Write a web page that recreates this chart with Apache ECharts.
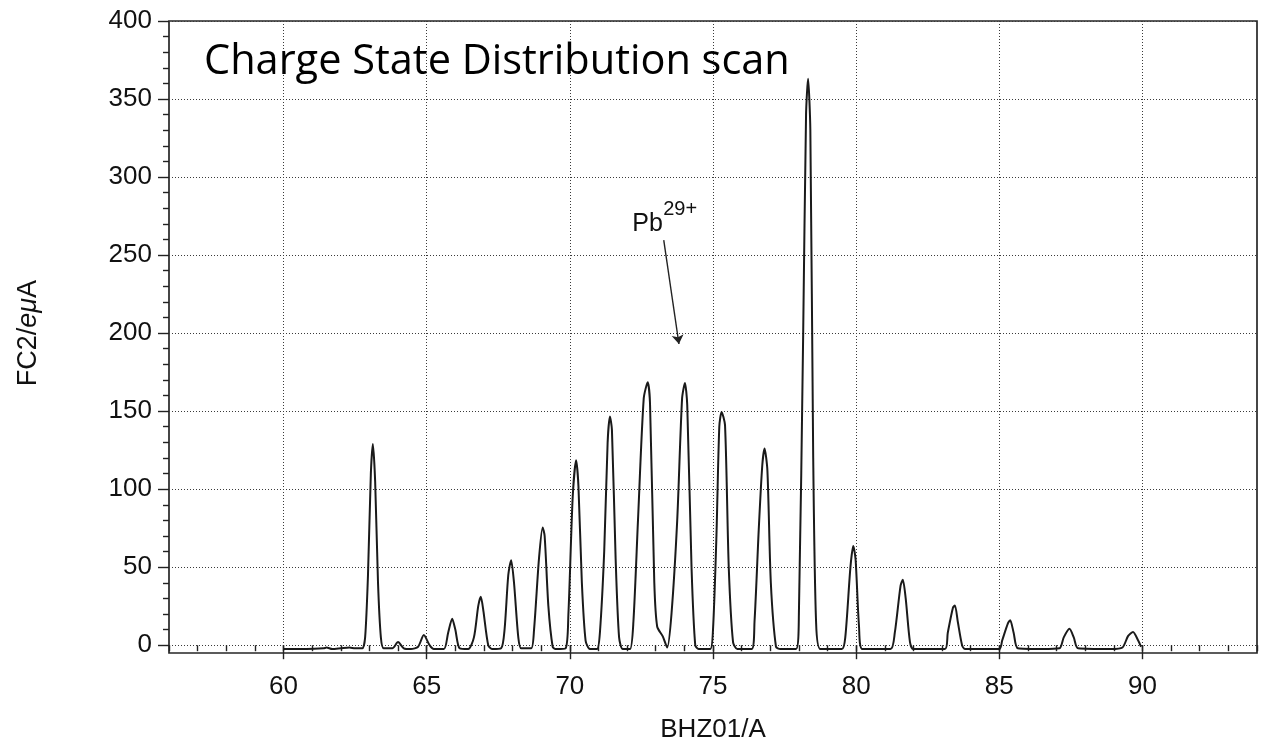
<!DOCTYPE html>
<html><head><meta charset="utf-8">
<script src="https://cdn.jsdelivr.net/npm/echarts@6/dist/echarts.min.js"></script>
<style>html,body{margin:0;padding:0;background:#fff}#c{width:1268px;height:752px}</style>
</head><body><div id="c"></div>
<script>
// ---- data ----
const titleText = 'Charge State Distribution scan';
const xAxisName = 'BHZ01/A';
const yAxisNameParts = ['FC2/', 'eμ', 'A'];
const bhz = [
 60.0,60.8,61.4,61.5,61.7,62.0,62.3,62.5,62.75,
 62.85,62.95,63.05,63.12,63.2,63.3,63.4,63.5,
 63.8,64.0,64.2,64.45,64.7,64.9,65.1,65.25,
 65.6,65.75,65.89,66.0,66.15,66.45,
 66.65,66.8,66.89,66.98,67.15,67.3,
 67.6,67.72,67.85,67.95,68.05,68.2,68.3,
 68.65,68.75,68.92,69.05,69.12,69.25,69.4,69.5,
 69.85,69.95,70.1,70.22,70.3,70.42,70.55,70.7,
 70.95,71.05,71.2,71.32,71.4,71.47,71.6,71.72,71.85,
 72.1,72.22,72.38,72.58,72.72,72.8,72.95,73.05,73.25,73.4,
 73.55,73.75,73.92,74.02,74.1,74.25,74.38,74.5,
 74.9,75.0,75.12,75.22,75.3,75.42,75.55,75.7,75.85,
 76.35,76.45,76.6,76.72,76.8,76.9,77.02,77.2,77.35,
 77.9,78.0,78.15,78.25,78.32,78.4,78.5,78.6,78.75,
 79.5,79.62,79.8,79.9,79.98,80.1,80.22,
 81.2,81.35,81.55,81.63,81.73,81.88,82.0,
 83.1,83.2,83.38,83.45,83.55,83.7,83.8,
 85.0,85.1,85.3,85.38,85.5,85.65,
 86.5,87.1,87.25,87.45,87.6,87.75,
 88.9,89.3,89.5,89.67,89.85,89.95
];
const fc2 = [
 -2.5,-2.5,-2,-1.5,-2.5,-2,-1.5,-2,-2,
 5,45,110,129,105,40,5,-2,
 -2,2,-2,-2.5,-1,6.5,0,-2.5,
 -2.5,8,17,10,-2,-2.5,
 5,25,31,22,0,-2.5,
 -2,10,45,54.5,40,5,-2,
 -2,10,55,75.5,70,25,-1,-2.5,
 -2,20,95,118.5,102,40,3,-2.5,
 -2.5,8,60,130,146.5,138,55,5,-2.5,
 -2.5,15,80,158,168.5,155,40,12,5.5,-1.5,
 20,80,158,168,154,50,0,-2.5,
 -2.5,10,70,140,149.5,141,50,2,-2.5,
 -2.5,15,75,115,126,112,40,-1,-2.5,
 -2.5,20,200,340,363,330,120,15,-2.5,
 -2.5,5,50,63.5,55,12,-2.5,
 -2.5,8,38,42,30,2,-2.5,
 -2.5,8,24,25.5,15,0,-2.5,
 -2.5,3,14,16,8,-2,
 -2.5,-2,5,10.5,5,-2,
 -2.5,-1.5,6,8.5,3,-1
];
const annotationMain = 'Pb';
const annotationSup = '29+';
const arrowFrom = [73.28, 259.6];
const arrowTo = [73.81, 193];
const annotationAt = [72.18, 270];      // left / middle of "Pb"
const annotationSupAt = [73.26, 279];   // left / middle of "29+"

// ---- layout ----
const W = 1268, H = 752;
const PL = 169, PR = 1257, PT = 21, PB = 653;
const XMIN = 56, XMAX = 94, YMIN = -5, YMAX = 400;
const ux = (PR - PL) / (XMAX - XMIN), uy = (PB - PT) / (YMAX - YMIN);
const FONT = '"Liberation Sans", Arial, sans-serif';
const dotted = { type: [1, 2], color: '#3a3a3a', width: 1 };

const chart = echarts.init(document.getElementById('c'), null, { renderer: 'canvas' });
const option = {
  animation: false,
  backgroundColor: '#fff',
  grid: [
    { left: PL, right: W - PR, top: PT, bottom: H - PB, show: true, borderColor: '#262626', borderWidth: 1.7, backgroundColor: 'transparent' },
    { left: PL + (60 - XMIN) * ux, right: (W - PR) + (XMAX - 90) * ux, top: PT, bottom: H - PB, show: false },
    { left: PL, right: W - PR, top: PT, bottom: (H - PB) + (0 - YMIN) * uy, show: false }
  ],
  xAxis: [
    { gridIndex: 0, type: 'value', min: XMIN, max: XMAX, interval: 1,
      axisLine: { show: false }, axisLabel: { show: false }, splitLine: { show: false },
      axisTick: { show: true, inside: false, length: 6, lineStyle: { color: '#222', width: 1.4 } } },
    { gridIndex: 1, type: 'value', min: 60, max: 90, interval: 5,
      axisLine: { show: false },
      axisTick: { show: true, inside: false, length: 14, lineStyle: { color: '#222', width: 1.4 } },
      axisLabel: { show: true, fontSize: 26, fontFamily: FONT, color: '#111', margin: 21 },
      splitLine: { show: true, lineStyle: dotted },
      name: xAxisName, nameLocation: 'middle', nameGap: 64,
      nameTextStyle: { fontSize: 26, fontFamily: FONT, color: '#111' } },
    { gridIndex: 2, type: 'value', min: XMIN, max: XMAX, show: false }
  ],
  yAxis: [
    { gridIndex: 0, type: 'value', min: YMIN, max: YMAX, show: false },
    { gridIndex: 1, type: 'value', min: YMIN, max: YMAX, show: false },
    { gridIndex: 2, type: 'value', min: 0, max: 400, interval: 50,
      axisLine: { show: false },
      axisTick: { show: true, inside: false, length: 11, lineStyle: { color: '#222', width: 1.4 } },
      minorTick: { show: true, splitNumber: 5, length: 6, lineStyle: { color: '#222', width: 1.4 } },
      axisLabel: { show: true, fontSize: 26, fontFamily: FONT, color: '#111', margin: 17 },
      splitLine: { show: true, lineStyle: dotted },
      name: '{n|' + yAxisNameParts[0] + '}{i|' + yAxisNameParts[1] + '}{n|' + yAxisNameParts[2] + '}',
      nameLocation: 'middle', nameRotate: 90, nameGap: 127,
      nameTextStyle: { fontFamily: FONT, fontSize: 27, color: '#111',
        rich: { n: { fontSize: 27, fontFamily: FONT, color: '#111' },
                i: { fontSize: 27, fontFamily: FONT, fontStyle: 'italic', color: '#111' } } } }
  ],
  series: [{
    type: 'line', xAxisIndex: 0, yAxisIndex: 0,
    data: bhz.map((x, i) => [x, fc2[i]]),
    showSymbol: false, symbol: 'none', smooth: 0.25,
    lineStyle: { color: '#1a1a1a', width: 2 },
    markLine: {
      silent: true, symbol: ['none', 'arrow'], symbolSize: 9,
      lineStyle: { color: '#222', width: 1.4, type: 'solid' },
      label: { show: false },
      data: [[{ coord: arrowFrom }, { coord: arrowTo }]]
    },
    z: 5
  }]
};
chart.setOption(option);

const pMain = chart.convertToPixel({ gridIndex: 0 }, annotationAt);
const pSup = chart.convertToPixel({ gridIndex: 0 }, annotationSupAt);
chart.setOption({
  graphic: [
    { type: 'text', left: 204, top: 41, z: 10,
      style: { text: titleText, font: '41.5px "Open Sans"', fill: '#000' } },
    { type: 'text', x: pMain[0], y: pMain[1], z: 10,
      style: { text: annotationMain, font: '25px ' + FONT, fill: '#111', textAlign: 'left', textVerticalAlign: 'middle' } },
    { type: 'text', x: pSup[0], y: pSup[1], z: 10,
      style: { text: annotationSup, font: '20px ' + FONT, fill: '#111', textAlign: 'left', textVerticalAlign: 'middle' } }
  ]
});
</script>
</body></html>
